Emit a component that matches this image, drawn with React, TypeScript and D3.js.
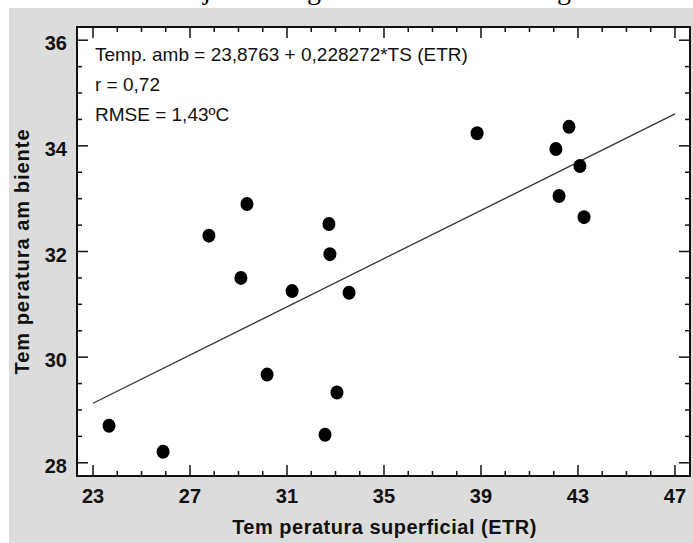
import React from "react";
import * as d3 from "d3";

// surface temperature (ETR) vs ambient temperature
const tsValues = [23.66, 25.89, 27.78, 29.35, 29.1, 30.18, 31.21, 32.73, 32.77, 32.57, 33.06, 33.56, 38.84, 42.09, 42.63, 42.22, 43.08, 43.25];
const ambValues = [28.7, 28.21, 32.3, 32.9, 31.5, 29.67, 31.25, 32.52, 31.95, 28.53, 29.33, 31.22, 34.24, 33.94, 34.36, 33.05, 33.62, 32.65];
const xTicks = [23, 27, 31, 35, 39, 43, 47];
const yTicks = [28, 30, 32, 34, 36];
const fitA = 23.8763;
const fitB = 0.228272;
const statLines = ["Temp. amb = 23,8763 + 0,228272*TS (ETR)", "r = 0,72", "RMSE = 1,43ºC"];

const W = 693;
const H = 543;
const plot = { left: 77, right: 690, top: 27, bottom: 476 };
const tickFont = "'Liberation Sans Narrow', 'Arial Narrow', 'Liberation Sans', Arial, sans-serif";
const textFont = "'Liberation Sans', Arial, sans-serif";

export default function App() {
  const x = d3.scaleLinear().domain([22.34, 47.62]).range([plot.left, plot.right]);
  const y = d3.scaleLinear().domain([27.75, 36.25]).range([plot.bottom, plot.top]);

  const xMinor = d3.range(23, 47.01, 1).filter(v => !xTicks.includes(v));
  const yMinor = d3.range(28, 36.01, 0.5).filter(v => !yTicks.includes(v));

  const fitLine = d3
    .line<number>()
    .x(d => x(d))
    .y(d => y(fitA + fitB * d));

  const major = 11;
  const minor = 5;

  return (
    <div style={{ position: "absolute", left: 0, top: 0 }}>
      <svg width={W} height={H} style={{ display: "block" }}>
        <rect x={0} y={0} width={W} height={H} fill="#fff" />
        {/* cut caption descenders from the page above */}
        <g fontFamily="'Liberation Serif', serif" fontSize={28} fill="#000">
          <text x={203} y={-1}>j</text>
          <text x={307} y={-1}>g</text>
          <text x={557} y={-1}>g</text>
        </g>
        <rect x={9} y={8} width={W - 9} height={H - 8} fill="#dcdcdc" />
        <rect
          x={plot.left}
          y={plot.top}
          width={plot.right - plot.left}
          height={plot.bottom - plot.top}
          fill="#fff"
        />

        {/* ticks */}
        <g stroke="#111" strokeWidth={1.5}>
          {xTicks.map(t => (
            <g key={"xt" + t}>
              <line x1={x(t)} x2={x(t)} y1={plot.bottom} y2={plot.bottom - major} />
              <line x1={x(t)} x2={x(t)} y1={plot.top} y2={plot.top + major} />
            </g>
          ))}
          {xMinor.map(t => (
            <g key={"xm" + t}>
              <line x1={x(t)} x2={x(t)} y1={plot.bottom} y2={plot.bottom - minor} />
              <line x1={x(t)} x2={x(t)} y1={plot.top} y2={plot.top + minor} />
            </g>
          ))}
          {yTicks.map(t => (
            <g key={"yt" + t}>
              <line x1={plot.left} x2={plot.left + major} y1={y(t)} y2={y(t)} />
              <line x1={plot.right} x2={plot.right - major} y1={y(t)} y2={y(t)} />
            </g>
          ))}
          {yMinor.map(t => (
            <g key={"ym" + t}>
              <line x1={plot.left} x2={plot.left + minor} y1={y(t)} y2={y(t)} />
              <line x1={plot.right} x2={plot.right - minor} y1={y(t)} y2={y(t)} />
            </g>
          ))}
        </g>

        <rect
          x={plot.left}
          y={plot.top}
          width={plot.right - plot.left}
          height={plot.bottom - plot.top}
          fill="none"
          stroke="#111"
          strokeWidth={2}
        />

        {/* regression line */}
        <path d={fitLine([23, 47]) || ""} fill="none" stroke="#333" strokeWidth={1.3} />

        {/* points */}
        {tsValues.map((v, i) => (
          <ellipse key={i} cx={x(v)} cy={y(ambValues[i])} rx={6.5} ry={7} fill="#000" />
        ))}

        {/* stats */}
        <g fontFamily={textFont} fontSize={19} fill="#111">
          {statLines.map((s, i) => (
            <text key={i} x={95} y={61 + i * 30}>
              {s}
            </text>
          ))}
        </g>

        {/* tick labels */}
        <g fontFamily={tickFont} fontWeight="bold" fontSize={20} fill="#111">
          {xTicks.map(t => (
            <text key={"xl" + t} x={x(t)} y={plot.bottom + 27} textAnchor="middle">
              {t}
            </text>
          ))}
          {yTicks.map(t => (
            <text key={"yl" + t} x={plot.left - 10} y={y(t) + 10} textAnchor="end">
              {t}
            </text>
          ))}
        </g>

        {/* axis titles */}
        <text
          x={(plot.left + plot.right) / 2 + 1}
          y={534}
          textAnchor="middle"
          fontFamily={tickFont}
          fontWeight="bold"
          fontSize={20}
          letterSpacing={0.5}
          fill="#111"
        >
          Tem peratura superficial (ETR)
        </text>
        <text
          transform={`translate(29, ${(plot.top + plot.bottom) / 2}) rotate(-90)`}
          textAnchor="middle"
          fontFamily={tickFont}
          fontWeight="bold"
          fontSize={20}
          letterSpacing={1}
          fill="#111"
        >
          Tem peratura am biente
        </text>
      </svg>
    </div>
  );
}
